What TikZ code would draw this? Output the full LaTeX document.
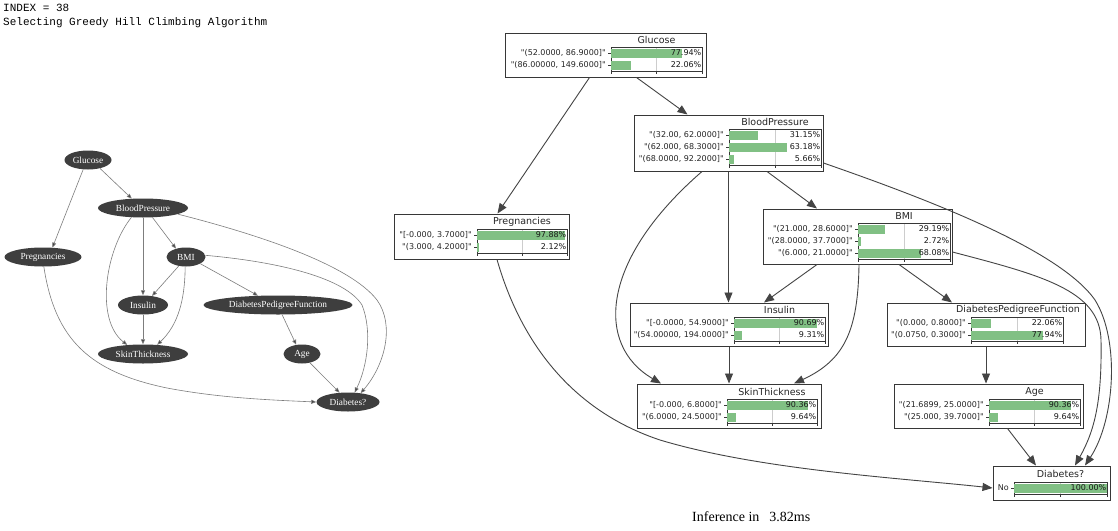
\documentclass[tikz,border=0pt]{standalone}
\usetikzlibrary{arrows.meta,shapes.geometric,fit}
\font\cptf="DejaVu Sans" at 8pt
\font\cptt="DejaVu Sans" at 9.5pt
\font\lgf="Liberation Serif" at 9.3pt
\font\monof="Liberation Mono" at 11pt
\font\inff="Liberation Serif" at 14pt
\definecolor{bargreen}{RGB}{129,192,132}
\definecolor{boxc}{RGB}{55,55,55}
\definecolor{edgec}{RGB}{68,68,68}
\definecolor{lnode}{RGB}{62,62,62}
\definecolor{ledgec}{RGB}{125,125,125}
\definecolor{gridc}{RGB}{205,205,205}
\newcommand\cptarea[4]{%
  \xdef\cbl{#1}\xdef\cbr{#2}%
  \draw[gridline] ({(#1+#2)/2},#3) -- ({(#1+#2)/2},#4);
  \draw[axisline] (#1,#3) rectangle (#2,#4);
  \draw[axisline] (#1,#4) -- (#1,#4+3);
  \draw[axisline] ({(#1+#2)/2},#4) -- ({(#1+#2)/2},#4+3);
  \draw[axisline] (#2,#4) -- (#2,#4+3);
}
\newcommand\cptrow[4]{%
  \fill[bargreen] ({\cbl+0.4},#1-4.5) rectangle ({\cbl+#3*(\cbr-\cbl)},#1+4.5);
  \draw[axisline] (\cbl-3,#1) -- (\cbl,#1);
  \node[rowlab] at (\cbl-5,#1) {#2};
  \node[pctlab] at (\cbr-0.5,#1) {#4};
}
\begin{document}
\begin{tikzpicture}[x=1pt,y=-1pt,
  cpt/.style={draw=boxc,line width=1pt,inner sep=0pt},
  gridline/.style={draw=gridc,line width=0.6pt},
  axisline/.style={draw=boxc,line width=0.6pt},
  rowlab/.style={font=\cptf,anchor=east,inner sep=0pt,text=black!85},
  pctlab/.style={font=\cptf,anchor=east,inner sep=0pt,text=black!90},
  cpttitle/.style={font=\cptt,inner sep=0pt,text=black!85},
  redge/.style={draw=edgec,line width=0.9pt,-{Triangle[length=10pt,width=8pt]}},
  ledge/.style={draw=ledgec,line width=0.6pt,-{Triangle[length=5pt,width=4pt,fill=edgec]}},
  gnode/.style={ellipse,fill=lnode,text=white,font=\lgf,inner sep=0pt,minimum height=19pt}]
\fill[white] (0,0) rectangle (1118,530);
\useasboundingbox (0,0) rectangle (1118,530);

% header texts
\node[font=\monof,anchor=base west,inner sep=0pt] (hdr1) at (3,12) {INDEX = 38};
\node[font=\monof,anchor=base west,inner sep=0pt] (hdr2) at (3,25.5) {Selecting Greedy Hill Climbing Algorithm};
\node[font=\inff,anchor=base west,inner sep=0pt] (inf) at (692,521) {Inference in\hspace{10pt}3.82ms};

% ---------- left graph ----------
\node[gnode,minimum width=47pt] (glucL) at (88,160) {Glucose};
\node[gnode,minimum width=90pt] (bpL) at (143,208) {BloodPressure};
\node[gnode,minimum width=77pt] (pregL) at (43,257) {Pregnancies};
\node[gnode,minimum width=39pt] (bmiL) at (186,257) {BMI};
\node[gnode,minimum width=50pt] (insL) at (143,305) {Insulin};
\node[gnode,minimum width=149pt] (dpfL) at (278,305) {DiabetesPedigreeFunction};
\node[gnode,minimum width=90pt] (skinL) at (143,354) {SkinThickness};
\node[gnode,minimum width=37pt] (ageL) at (302,354) {Age};
\node[gnode,minimum width=63pt] (diaL) at (348,402) {Diabetes?};

\draw[ledge] (glucL.-35) -- (bpL.140);
\draw[ledge] (glucL.243) -- (pregL.45);
\draw[ledge] (bpL.-45) -- (bmiL.140);
\draw[ledge] (bpL.south) -- (insL.north);
\draw[ledge] (bpL.-141) .. controls (105,250) and (95,320) .. (skinL.150);
\draw[ledge] (bpL.-10) .. controls (260,235) and (350,265) .. (377,300) .. controls (395,325) and (385,365) .. (diaL.35);
\draw[ledge] (bmiL.5) .. controls (280,262) and (345,278) .. (362,305) .. controls (372,330) and (368,365) .. (diaL.55);
\draw[ledge] (bmiL.-129) -- (insL.45);
\draw[ledge] (bmiL.-95) .. controls (185,300) and (178,325) .. (skinL.33);
\draw[ledge] (bmiL.-25) -- (dpfL.155);
\draw[ledge] (insL.south) -- (skinL.north);
\draw[ledge] (dpfL.-67) -- (ageL.122);
\draw[ledge] (ageL.-48) -- (diaL.132);
\draw[ledge] (pregL.-85) .. controls (55,340) and (90,372) .. (167,388) .. controls (220,398) and (270,400) .. (diaL.180);

% ---------- right graph ----------
% Glucose
\node[cpt,fit={(505,33) (706,77)}] (glu) {};
\cptarea{611}{702}{47}{71}
\node[cpttitle] (gluT) at (656.5,40) {Glucose};
\cptrow{53}{"(52.0000, 86.9000]"}{0.7794}{77.94\%}
\cptrow{65}{"(86.00000, 149.6000]"}{0.2206}{22.06\%}

% BloodPressure
\node[cpt,fit={(634,115) (823,171)}] (bp) {};
\cptarea{729}{821}{129}{165}
\node[cpttitle] (bpT) at (775,122) {BloodPressure};
\cptrow{135}{"(32.00, 62.0000]"}{0.3115}{31.15\%}
\cptrow{147}{"(62.000, 68.3000]"}{0.6318}{63.18\%}
\cptrow{159}{"(68.0000, 92.2000]"}{0.0566}{5.66\%}

% Pregnancies
\node[cpt,fit={(394,214) (569,259)}] (preg) {};
\cptarea{477}{567}{229}{253}
\node[cpttitle] (pregT) at (522,222) {Pregnancies};
\cptrow{235}{"[-0.000, 3.7000]"}{0.9788}{97.88\%}
\cptrow{247}{"(3.000, 4.2000]"}{0.0212}{2.12\%}

% BMI
\node[cpt,fit={(763,209) (952,264)}] (bmi) {};
\cptarea{858}{950}{223}{259}
\node[cpttitle] (bmiT) at (904,216) {BMI};
\cptrow{229}{"(21.000, 28.6000]"}{0.2919}{29.19\%}
\cptrow{241}{"(28.0000, 37.7000]"}{0.0272}{2.72\%}
\cptrow{253}{"(6.000, 21.0000]"}{0.6808}{68.08\%}

% Insulin
\node[cpt,fit={(630,303) (828,346)}] (ins) {};
\cptarea{734}{825}{317}{341}
\node[cpttitle] (insT) at (779.5,309.5) {Insulin};
\cptrow{323}{"[-0.0000, 54.9000]"}{0.9069}{90.69\%}
\cptrow{335}{"(54.00000, 194.0000]"}{0.0931}{9.31\%}

% DiabetesPedigreeFunction
\node[cpt,fit={(887,303) (1085,346)}] (dpf) {};
\cptarea{971}{1063}{317}{341}
\node[cpttitle] (dpfT) at (1018,309.5) {DiabetesPedigreeFunction};
\cptrow{323}{"(0.000, 0.8000]"}{0.2206}{22.06\%}
\cptrow{335}{"(0.0750, 0.3000]"}{0.7794}{77.94\%}

% SkinThickness
\node[cpt,fit={(637,384) (821,428)}] (skin) {};
\cptarea{727}{817}{399}{423}
\node[cpttitle] (skinT) at (772,392) {SkinThickness};
\cptrow{405}{"[-0.000, 6.8000]"}{0.9036}{90.36\%}
\cptrow{417}{"(6.0000, 24.5000]"}{0.0964}{9.64\%}

% Age
\node[cpt,fit={(894,384) (1083,428)}] (age) {};
\cptarea{989}{1080}{399}{423}
\node[cpttitle] (ageT) at (1034.5,392) {Age};
\cptrow{405}{"(21.6899, 25.0000]"}{0.9036}{90.36\%}
\cptrow{417}{"(25.000, 39.7000]"}{0.0964}{9.64\%}

% Diabetes?
\node[cpt,fit={(993,466) (1110,500)}] (dia) {};
\cptarea{1014}{1107}{482}{494}
\node[cpttitle] (diaT) at (1060.5,474) {Diabetes?};
\cptrow{488}{No}{1.0}{100.00\%}

% edges
\draw[redge] ([xshift=31pt]glu.south) -- ([xshift=-41pt]bp.north);
\draw[redge] ([xshift=-16pt]glu.south) -- ([xshift=16pt]preg.north);
\draw[redge] ([xshift=38.5pt]bp.south) -- ([xshift=-40.5pt]bmi.north);
\draw[redge] (bp.south) -- (bp.south |- ins.north);
\draw[redge] ([xshift=-26.5pt]bp.south) .. controls (600,260) and (595,345) .. ([xshift=-68pt]skin.north);
\draw[redge] ([yshift=-20pt]bp.east) .. controls (930,200) and (1060,250) .. (1095,300) .. controls (1120,340) and (1115,420) .. ([xshift=33.5pt]dia.north);
\draw[redge] ([xshift=-40.5pt]bmi.south) -- ([xshift=35pt]ins.north);
\draw[redge] ([xshift=1.5pt]bmi.south) .. controls (858,330) and (845,360) .. ([xshift=65pt]skin.north);
\draw[redge] ([xshift=41.5pt]bmi.south) -- ([xshift=-34pt]dpf.north);
\draw[redge] ([yshift=-15.5pt]bmi.east) .. controls (1040,275) and (1100,290) .. (1101,340) .. controls (1102,400) and (1095,430) .. ([xshift=23.5pt]dia.north);
\draw[redge] (ins.south) -- (ins.south |- skin.north);
\draw[redge] (dpf.south) -- (dpf.south |- age.north);
\draw[redge] ([xshift=19pt]age.south) -- ([xshift=-15.5pt]dia.north);
\draw[redge] ([xshift=15.5pt]preg.south) .. controls (520,340) and (570,410) .. (660,440) .. controls (760,470) and (900,478) .. ([yshift=-5pt]dia.west);
\end{tikzpicture}
\end{document}
